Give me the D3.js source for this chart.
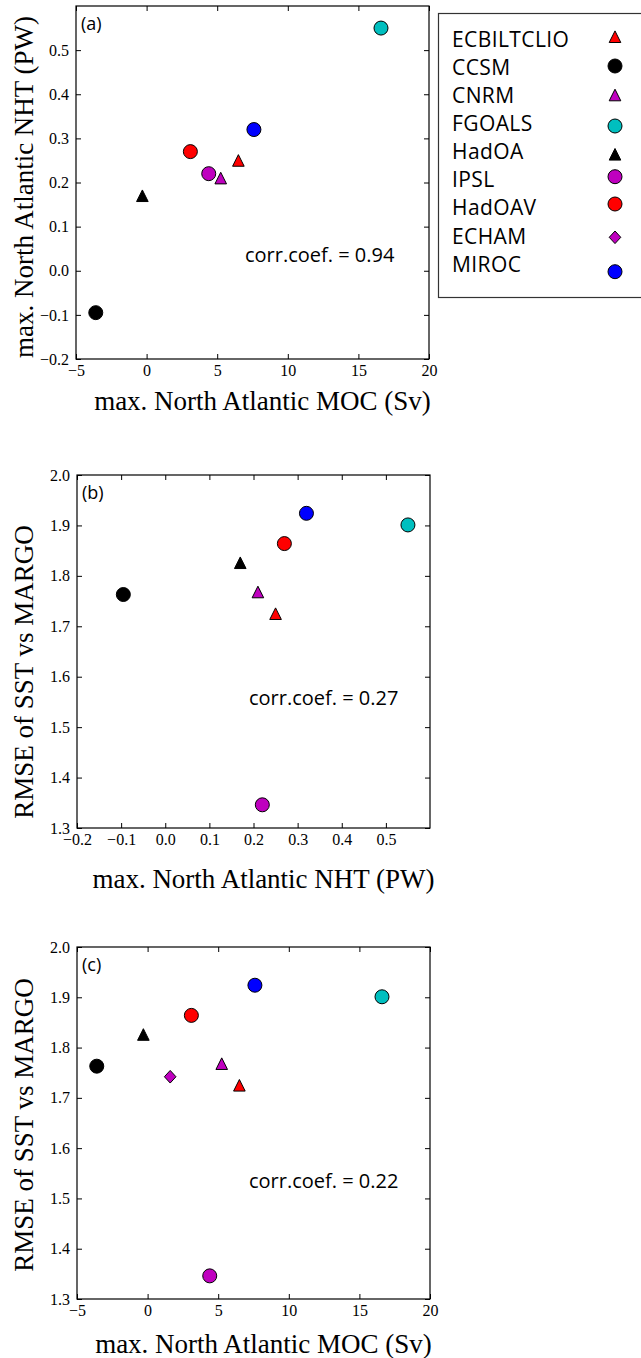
<!DOCTYPE html>
<html><head><meta charset="utf-8">
<script src="https://cdn.jsdelivr.net/npm/d3@7/dist/d3.min.js"></script>
<style>
body{margin:0;background:#fff;}
svg{display:block;}
</style></head>
<body>
<svg id="c" width="641" height="1358"></svg>
<script>
const models = ["ECBILTCLIO","CCSM","CNRM","FGOALS","HadOA","IPSL","HadOAV","ECHAM","MIROC"];
const colors = ["#ff0000","#000000","#bf00bf","#00bfbf","#000000","#bf00bf","#ff0000","#bf00bf","#0000ff"];
const shapes = ["triangle","circle","triangle","circle","triangle","circle","circle","diamond","circle"];
const moc  = [6.5, -3.6, 5.25, 16.6, -0.3, 4.4, 3.1, 1.6, 7.6];
const nht  = [0.25, -0.095, 0.21, 0.55, 0.17, 0.22, 0.27, null, 0.32];
const rmse = [1.725, 1.763, 1.768, 1.901, 1.826, 1.346, 1.864, 1.742, 1.924];

const mocTicks = [-5, 0, 5, 10, 15, 20];
const nhtTicks = [-0.2, -0.1, 0.0, 0.1, 0.2, 0.3, 0.4, 0.5];
const rmseTicks = [1.3, 1.4, 1.5, 1.6, 1.7, 1.8, 1.9, 2.0];
const corrs = ["0.94", "0.27", "0.22"];

const svg = d3.select("#c");
const minus = s => s.replace("-", "\u2212");

function marker(g, shape, x, y, color){
  if(shape==="circle"){
    g.append("circle").attr("cx",x).attr("cy",y).attr("r",7).attr("fill",color).attr("stroke","#000").attr("stroke-width",1);
  } else if(shape==="triangle"){
    const h=5.8;
    g.append("path").attr("d",`M${x},${y-h}L${x+h},${y+h}L${x-h},${y+h}Z`).attr("fill",color).attr("stroke","#000").attr("stroke-width",1);
  } else {
    const h=6.3;
    g.append("path").attr("d",`M${x},${y-h}L${x+h*0.92},${y}L${x},${y+h}L${x-h*0.92},${y}Z`).attr("fill",color).attr("stroke","#000").attr("stroke-width",1);
  }
}

function styleTicks(a){
  a.select(".domain").remove();
  a.attr("font-family","Liberation Serif, serif").attr("font-size",16);
  a.selectAll("text").attr("fill","#000");
  a.selectAll("line").attr("stroke","#000").attr("stroke-width",1);
}

function panel(cfg){
  const g = svg.append("g");
  const x = d3.scaleLinear().domain(cfg.xd).range([cfg.x0, cfg.x1]);
  const y = d3.scaleLinear().domain(cfg.yd).range([cfg.y1, cfg.y0]);
  const fmtX = cfg.xfmt, fmtY = cfg.yfmt;
  const gb = g.append("g").attr("transform",`translate(0,${cfg.y1})`);
  gb.call(d3.axisBottom(x).tickValues(cfg.xt).tickFormat(d=>minus(fmtX(d))).tickSizeInner(-5).tickSizeOuter(0).tickPadding(6));
  styleTicks(gb);
  const gt = g.append("g").attr("transform",`translate(0,${cfg.y0})`);
  gt.call(d3.axisTop(x).tickValues(cfg.xt).tickFormat("").tickSizeInner(-5).tickSizeOuter(0));
  styleTicks(gt);
  const gl = g.append("g").attr("transform",`translate(${cfg.x0},0)`);
  gl.call(d3.axisLeft(y).tickValues(cfg.yt).tickFormat(d=>minus(fmtY(d))).tickSizeInner(-5).tickSizeOuter(0).tickPadding(7));
  styleTicks(gl);
  const gr = g.append("g").attr("transform",`translate(${cfg.x1},0)`);
  gr.call(d3.axisRight(y).tickValues(cfg.yt).tickFormat("").tickSizeInner(-5).tickSizeOuter(0));
  styleTicks(gr);
  g.append("rect").attr("x",cfg.x0).attr("y",cfg.y0).attr("width",cfg.x1-cfg.x0).attr("height",cfg.y1-cfg.y0)
    .attr("fill","none").attr("stroke","#000").attr("stroke-width",1.2);
  models.forEach((m,i)=>{
    const xv = cfg.xv[i], yv = cfg.yv[i];
    if(xv==null || yv==null) return;
    marker(g, shapes[i], x(xv), y(yv), colors[i]);
  });
  g.append("text").attr("x",cfg.x0+5).attr("y",cfg.y0+24).text(cfg.label)
    .attr("font-family","Open Sans, sans-serif").attr("font-size",18).attr("fill","#000");
  g.append("text").attr("x",cfg.cx).attr("y",cfg.cy).text("corr.coef. = "+cfg.corr)
    .attr("font-family","Open Sans, sans-serif").attr("font-size",20).attr("fill","#000");
  g.append("text").attr("x",(cfg.x0+cfg.x1)/2+10).attr("y",cfg.xly).attr("text-anchor","middle").text(cfg.xlab)
    .attr("font-family","Liberation Serif, serif").attr("font-size",27).attr("fill","#000");
  g.append("text").attr("transform",`translate(33,${cfg.ylc}) rotate(-90)`).attr("text-anchor","middle").text(cfg.ylab)
    .attr("font-family","Liberation Serif, serif").attr("font-size",27).attr("fill","#000");
}

const f1 = d3.format(".1f"), f0 = d3.format("d");

panel({x0:76,x1:429,y0:6,y1:359,xd:[-5,20],yd:[-0.2,0.6],xt:mocTicks,yt:nhtTicks,xfmt:f0,yfmt:f1,
  xv:moc,yv:nht,label:"(a)",corr:corrs[0],cx:245,cy:262,xlab:"max. North Atlantic MOC (Sv)",xly:410,
  ylab:"max. North Atlantic NHT (PW)",ylc:187});
panel({x0:77,x1:430,y0:475,y1:828,xd:[-0.2,0.6],yd:[1.3,2.0],xt:nhtTicks,yt:rmseTicks,xfmt:f1,yfmt:f1,
  xv:nht,yv:rmse,label:"(b)",corr:corrs[1],cx:249,cy:705,xlab:"max. North Atlantic NHT (PW)",xly:888,
  ylab:"RMSE of SST vs MARGO",ylc:672});
panel({x0:77,x1:430,y0:947,y1:1299,xd:[-5,20],yd:[1.3,2.0],xt:mocTicks,yt:rmseTicks,xfmt:f0,yfmt:f1,
  xv:moc,yv:rmse,label:"(c)",corr:corrs[2],cx:249,cy:1188,xlab:"max. North Atlantic MOC (Sv)",xly:1353,
  ylab:"RMSE of SST vs MARGO",ylc:1125});

// legend
const lg = svg.append("g");
lg.append("rect").attr("x",438.5).attr("y",13.5).attr("width",205).attr("height",284)
  .attr("fill","#fff").attr("stroke","#333").attr("stroke-width",1.2);
const rowY = d3.scaleLinear().domain([0, models.length-1]).range([46.7, 271.7]);
const markY = [36.7, 66, 95, 126, 154.3, 176.7, 204, 237.3, 271.7];
models.forEach((m,i)=>{
  lg.append("text").attr("x",452).attr("y",rowY(i)).text(m)
    .attr("font-family","Open Sans, sans-serif").attr("font-size",21).attr("letter-spacing",0.4).attr("fill","#000");
  marker(lg, shapes[i], 615, markY[i], colors[i]);
});
</script>
</body></html>
